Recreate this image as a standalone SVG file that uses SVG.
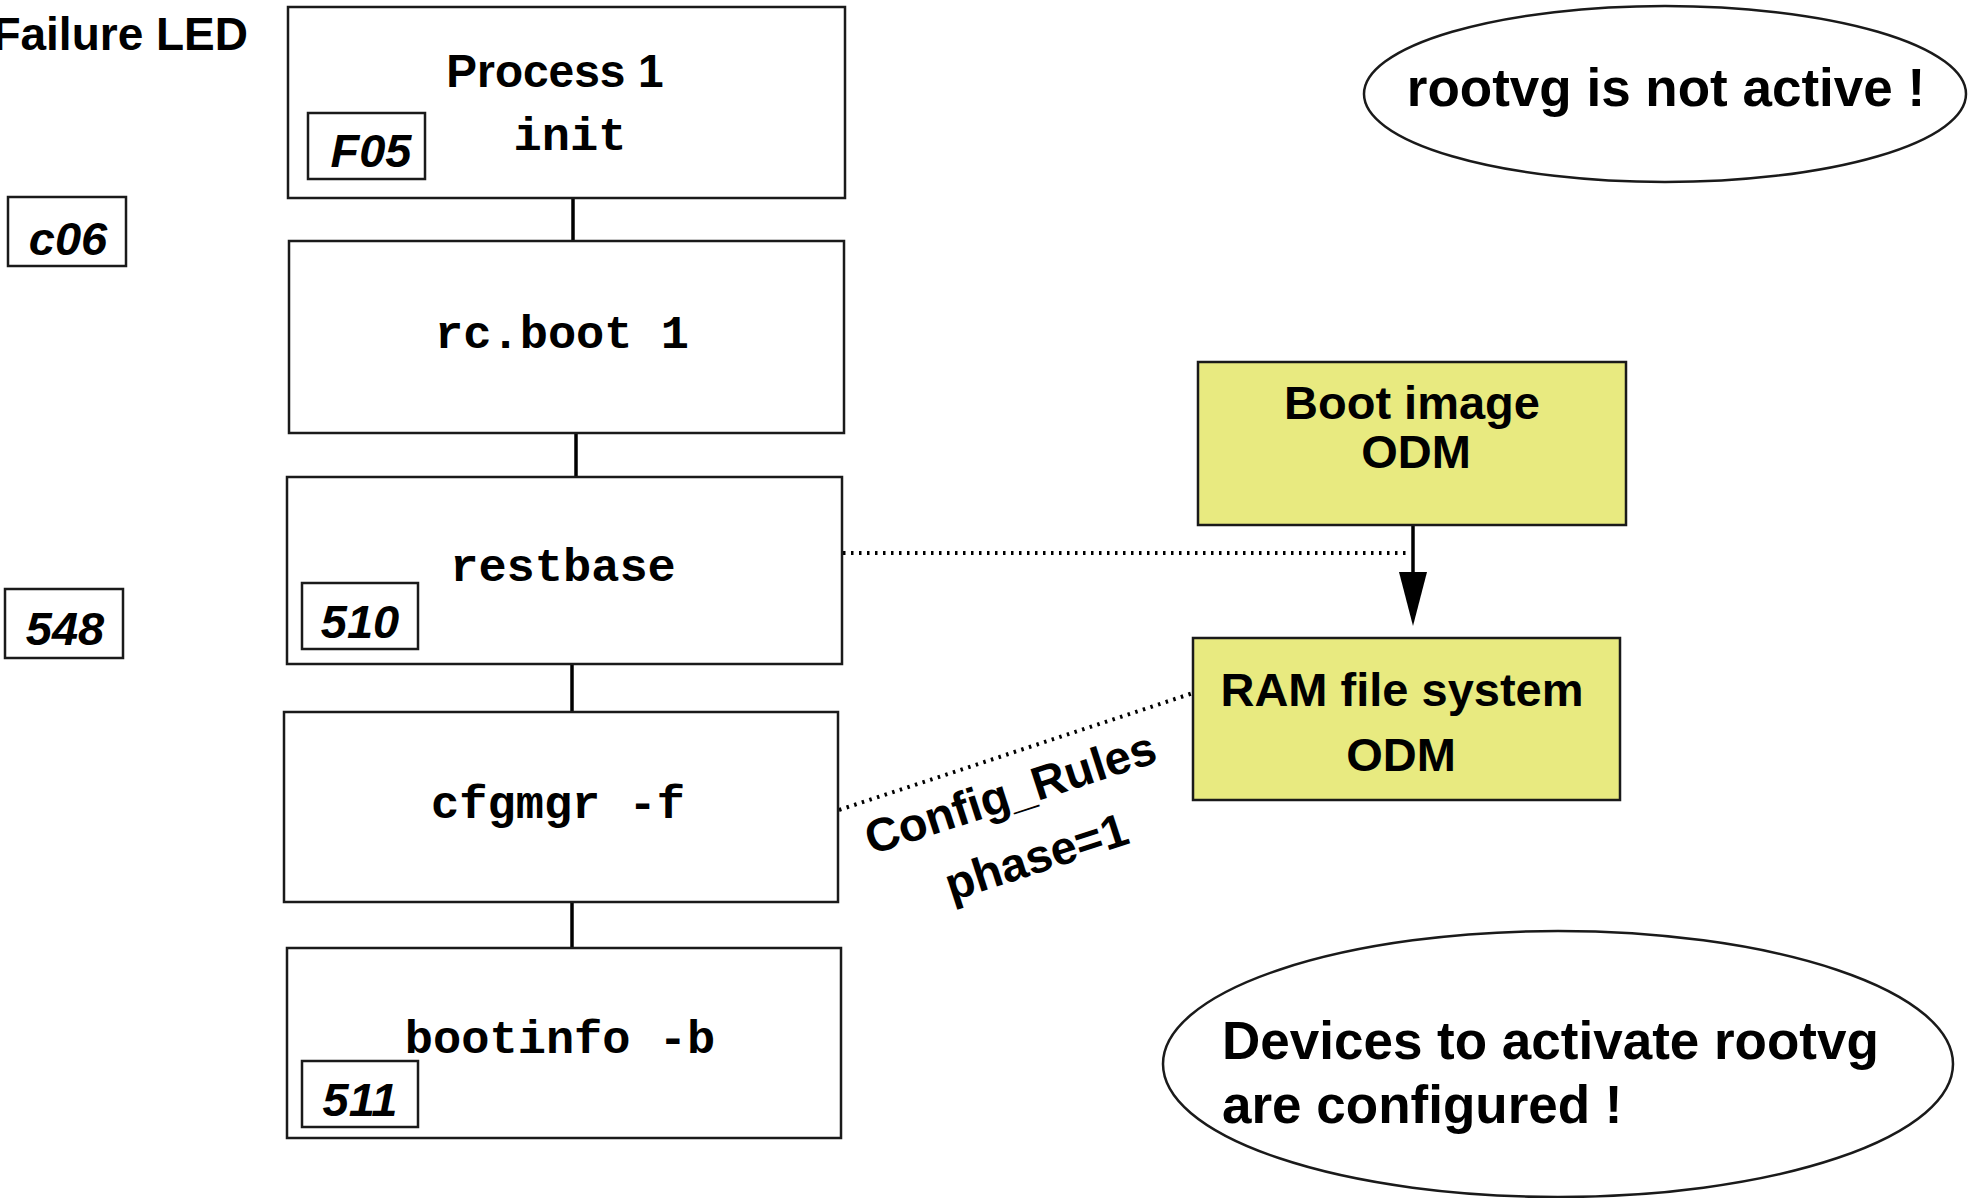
<svg xmlns="http://www.w3.org/2000/svg" width="1970" height="1198" viewBox="0 0 1970 1198">
  <style>
    .box { fill: #ffffff; stroke: #1a1a1a; stroke-width: 2.5; }
    .led { fill: #ffffff; stroke: #1a1a1a; stroke-width: 2.5; }
    .odm { fill: #e8ea80; stroke: #1a1a1a; stroke-width: 2.5; }
    .bubble { fill: #ffffff; stroke: #1a1a1a; stroke-width: 2.5; }
    .link { stroke: #000000; stroke-width: 3.5; fill: none; }
    .dots { stroke: #000000; stroke-width: 4; fill: none; stroke-dasharray: 2.5 5.5; }
    .sans { font-family: "Liberation Sans", Arial, Helvetica, sans-serif; font-weight: bold; fill: #000000; }
    .mono { font-family: "Liberation Mono", "Courier New", monospace; font-weight: bold; font-size: 47px; fill: #000000; text-anchor: middle; }
    .code { font-family: "Liberation Sans", Arial, Helvetica, sans-serif; font-weight: bold; font-style: italic; font-size: 47px; fill: #000000; text-anchor: middle; }
  </style>

  <rect width="1970" height="1198" fill="#ffffff"/>

  <!-- column heading for the LED codes -->
  <text class="sans" x="248" y="50" font-size="46" text-anchor="end">Failure LED</text>

  <!-- connectors -->
  <g id="connectors">
    <line class="link" x1="573" y1="194" x2="573" y2="241"/>
    <line class="link" x1="576" y1="433" x2="576" y2="477"/>
    <line class="link" x1="572" y1="664" x2="572" y2="712"/>
    <line class="link" x1="572" y1="902" x2="572" y2="948"/>
    <line class="dots" x1="843" y1="553" x2="1410" y2="553"/>
    <line class="dots" x1="839" y1="810" x2="1193" y2="693"/>
    <line class="link" x1="1413" y1="523" x2="1413" y2="580"/>
    <path d="M1399,572 L1427,572 L1413,626 Z" fill="#000000"/>
  </g>

  <!-- boot sequence -->
  <g id="process1">
    <rect class="box" x="288" y="7" width="557" height="191"/>
    <text class="sans" x="555" y="87" font-size="46" text-anchor="middle">Process 1</text>
    <text class="mono" x="570" y="150">init</text>
    <rect class="led" x="308" y="113" width="117" height="66"/>
    <text class="code" x="371" y="167">F05</text>
  </g>

  <g id="led-c06">
    <rect class="led" x="8" y="197" width="118" height="69"/>
    <text class="code" x="68" y="255">c06</text>
  </g>

  <g id="rcboot">
    <rect class="box" x="289" y="241" width="555" height="192"/>
    <text class="mono" x="562" y="348">rc.boot 1</text>
  </g>

  <g id="restbase">
    <rect class="box" x="287" y="477" width="555" height="187"/>
    <text class="mono" x="563" y="581">restbase</text>
    <rect class="led" x="302" y="583" width="116" height="66"/>
    <text class="code" x="360" y="638">510</text>
  </g>

  <g id="led-548">
    <rect class="led" x="5" y="589" width="118" height="69"/>
    <text class="code" x="65" y="645">548</text>
  </g>

  <g id="cfgmgr">
    <rect class="box" x="284" y="712" width="554" height="190"/>
    <text class="mono" x="558" y="818">cfgmgr -f</text>
  </g>

  <g id="bootinfo">
    <rect class="box" x="287" y="948" width="554" height="190"/>
    <text class="mono" x="560" y="1053">bootinfo -b</text>
    <rect class="led" x="302" y="1061" width="116" height="66"/>
    <text class="code" x="360" y="1116">511</text>
  </g>

  <!-- object data managers -->
  <g id="bootimage-odm">
    <rect class="odm" x="1198" y="362" width="428" height="163"/>
    <text class="sans" x="1412" y="419" font-size="47" text-anchor="middle">Boot image</text>
    <text class="sans" x="1416" y="468" font-size="47" text-anchor="middle">ODM</text>
  </g>

  <g id="ramfs-odm">
    <rect class="odm" x="1193" y="638" width="427" height="162"/>
    <text class="sans" x="1402" y="706" font-size="47" text-anchor="middle">RAM file system</text>
    <text class="sans" x="1401" y="771" font-size="47" text-anchor="middle">ODM</text>
  </g>

  <!-- label on the cfgmgr rules link -->
  <g id="config-rules-label">
    <text class="sans" font-size="47" text-anchor="middle" transform="translate(1010,792) rotate(-18)" y="17">Config_Rules</text>
    <text class="sans" font-size="47" text-anchor="middle" transform="translate(1036,856) rotate(-18)" y="17">phase=1</text>
  </g>

  <!-- status notes -->
  <g id="note-rootvg">
    <ellipse class="bubble" cx="1665" cy="94" rx="301" ry="88"/>
    <text class="sans" x="1666" y="106" font-size="53" text-anchor="middle">rootvg is not active !</text>
  </g>

  <g id="note-devices">
    <ellipse class="bubble" cx="1558" cy="1064" rx="395" ry="133"/>
    <text class="sans" x="1222" y="1059" font-size="53">Devices to activate rootvg</text>
    <text class="sans" x="1222" y="1123" font-size="53">are configured !</text>
  </g>
</svg>
